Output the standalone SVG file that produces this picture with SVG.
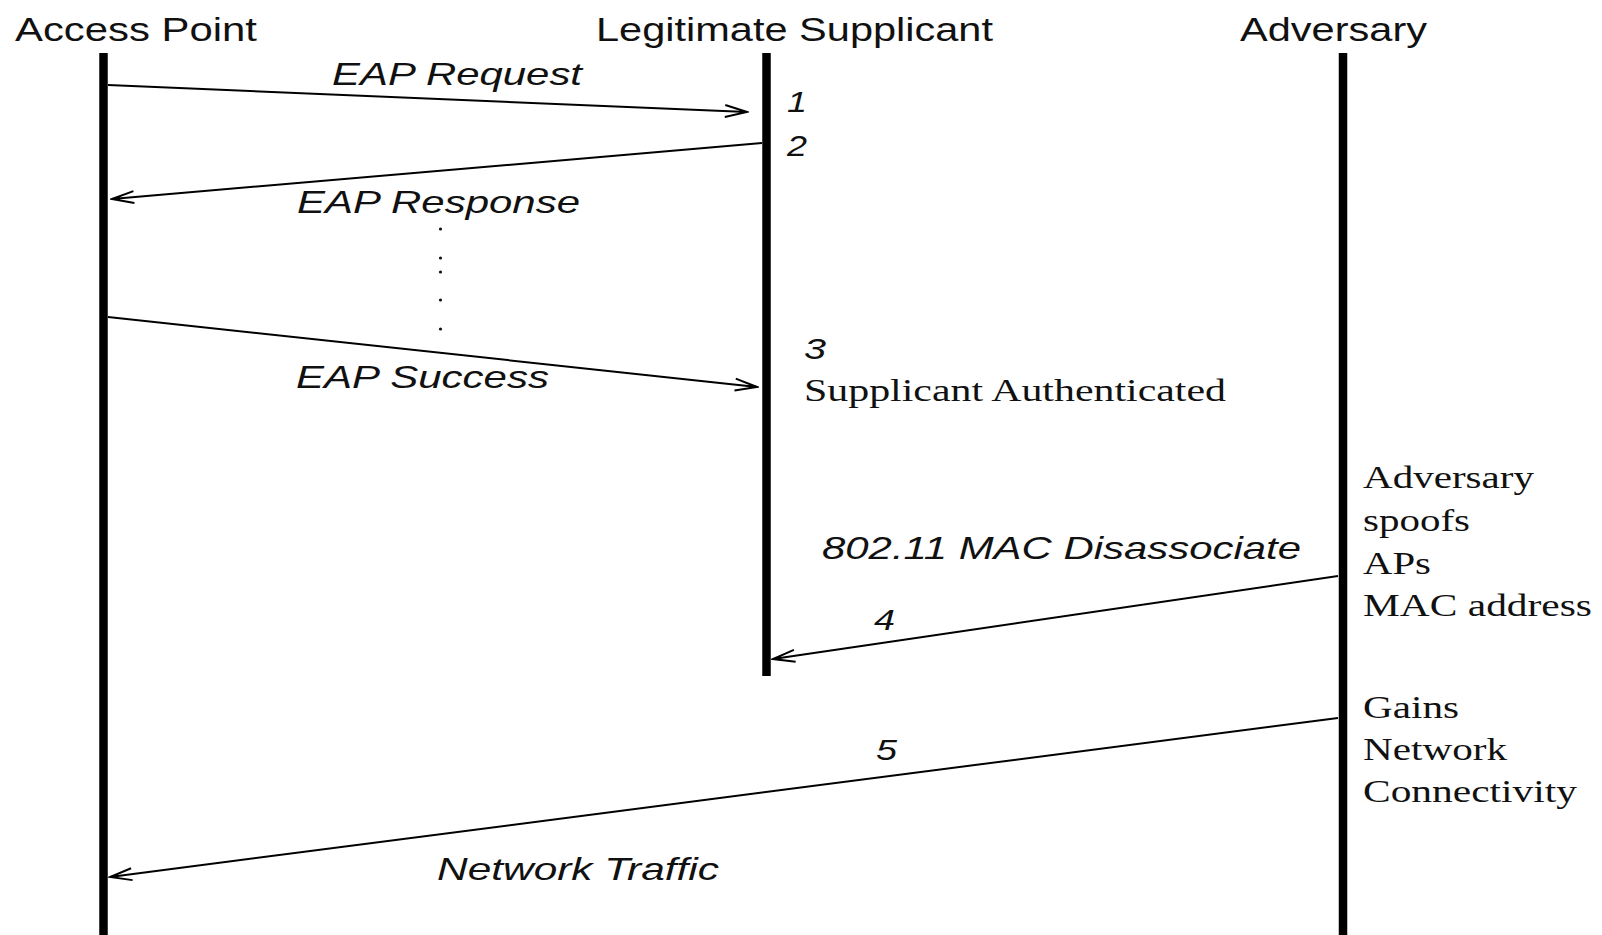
<svg xmlns="http://www.w3.org/2000/svg" width="1602" height="935" viewBox="0 0 1602 935">
<style>
.title{font-family:"Liberation Sans",Arial,sans-serif;font-size:33px;fill:#111}
.lab{font-family:"Liberation Sans",Arial,sans-serif;font-style:italic;font-size:32px;fill:#111}
.num{font-family:"Liberation Sans",Arial,sans-serif;font-style:italic;font-size:30px;fill:#111}
.ser{font-family:"Liberation Serif","Times New Roman",serif;font-size:31px;fill:#111}
.life{stroke:#000;stroke-width:8.5;fill:none}
.msg{stroke:#000;stroke-width:2;fill:none;marker-end:url(#arr)}
</style>
<defs>
<marker id="arr" markerUnits="userSpaceOnUse" viewBox="-26 -9 28 18" refX="0" refY="0" markerWidth="28" markerHeight="18" orient="auto">
<path d="M-22,-6 L0,0 L-22,6" fill="none" stroke="#000" stroke-width="2"/>
<path d="M-8,-2 L0,0 L-8,2 Z" fill="#000"/>
</marker>
</defs>
<rect width="1602" height="935" fill="#fff"/>
<g id="access-point">
<text class="title" x="15" y="41" textLength="242" lengthAdjust="spacingAndGlyphs">Access Point</text>
<line class="life" x1="103.5" y1="53" x2="103.5" y2="935"/>
</g>
<g id="supplicant">
<text class="title" x="596" y="41" textLength="397" lengthAdjust="spacingAndGlyphs">Legitimate Supplicant</text>
<line class="life" x1="766.5" y1="53" x2="766.5" y2="676"/>
<text class="num" x="787" y="112" textLength="20" lengthAdjust="spacingAndGlyphs">1</text>
<text class="num" x="787" y="156" textLength="20" lengthAdjust="spacingAndGlyphs">2</text>
<text class="num" x="804" y="359" textLength="22" lengthAdjust="spacingAndGlyphs">3</text>
<text class="ser" x="804" y="401" textLength="422" lengthAdjust="spacingAndGlyphs">Supplicant Authenticated</text>
</g>
<g id="adversary">
<text class="title" x="1240" y="41" textLength="187" lengthAdjust="spacingAndGlyphs">Adversary</text>
<line class="life" x1="1343" y1="53" x2="1343" y2="935"/>
<text class="ser" x="1363" y="488" textLength="171" lengthAdjust="spacingAndGlyphs">Adversary</text>
<text class="ser" x="1363" y="531" textLength="107" lengthAdjust="spacingAndGlyphs">spoofs</text>
<text class="ser" x="1363" y="574" textLength="68" lengthAdjust="spacingAndGlyphs">APs</text>
<text class="ser" x="1363" y="616" textLength="229" lengthAdjust="spacingAndGlyphs">MAC address</text>
<text class="ser" x="1363" y="718" textLength="96" lengthAdjust="spacingAndGlyphs">Gains</text>
<text class="ser" x="1363" y="760" textLength="144" lengthAdjust="spacingAndGlyphs">Network</text>
<text class="ser" x="1363" y="802" textLength="214" lengthAdjust="spacingAndGlyphs">Connectivity</text>
</g>
<g id="connectors">
<line class="msg" x1="108" y1="85" x2="747" y2="112"/>
<line class="msg" x1="762" y1="143" x2="112" y2="199"/>
<line class="msg" x1="108" y1="317" x2="757" y2="387"/>
<line class="msg" x1="1338" y1="576" x2="773" y2="659"/>
<line class="msg" x1="1338" y1="718" x2="110" y2="877"/>
<g fill="#111">
<circle cx="440.5" cy="229" r="1.6"/>
<circle cx="440.5" cy="258" r="1.6"/>
<circle cx="440.5" cy="272" r="1.6"/>
<circle cx="440.5" cy="300" r="1.6"/>
<circle cx="440.5" cy="329" r="1.6"/>
</g>
<text class="lab" x="332" y="85" textLength="250" lengthAdjust="spacingAndGlyphs">EAP Request</text>
<text class="lab" x="297" y="213" textLength="283" lengthAdjust="spacingAndGlyphs">EAP Response</text>
<text class="lab" x="296" y="388" textLength="253" lengthAdjust="spacingAndGlyphs">EAP Success</text>
<text class="lab" x="822" y="559" textLength="479" lengthAdjust="spacingAndGlyphs">802.11 MAC Disassociate</text>
<text class="num" x="874" y="630" textLength="21" lengthAdjust="spacingAndGlyphs">4</text>
<text class="num" x="876" y="760" textLength="21" lengthAdjust="spacingAndGlyphs">5</text>
<text class="lab" x="437" y="880" textLength="282" lengthAdjust="spacingAndGlyphs">Network Traffic</text>
</g>
</svg>
